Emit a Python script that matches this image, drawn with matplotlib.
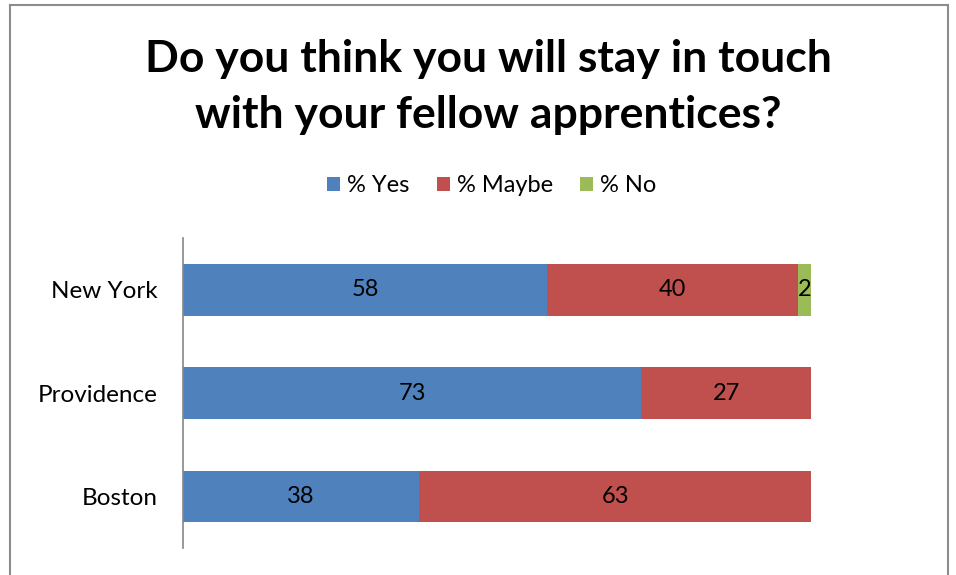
import numpy as np
import matplotlib.pyplot as plt
from matplotlib.patches import Patch
from matplotlib.lines import Line2D

plt.rcParams['font.family'] = ['Lato', 'DejaVu Sans']

cities = ["New York", "Providence", "Boston"]
series = ["% Yes", "% Maybe", "% No"]
yes = [58, 73, 38]
maybe = [40, 27, 63]
no = [2, 0, 0]
colors = ["#4F81BD", "#C0504D", "#9BBB59"]

values = np.array([yes, maybe, no], dtype=float)
shares = values / values.sum(axis=0) * 100  # 100% stacked

fig = plt.figure(figsize=(9.56, 5.75), dpi=100)
ax = fig.add_axes([183 / 956, 1 - 548 / 575, 628 / 956, 310 / 575])

y = np.arange(len(cities))
left = np.zeros(len(cities))
for i, name in enumerate(series):
    ax.barh(y, shares[i], left=left, height=0.5, color=colors[i], label=name)
    for j in range(len(cities)):
        if values[i, j] > 0:
            ax.text(left[j] + shares[i, j] / 2, y[j], f"{values[i, j]:.0f}",
                    ha="center", va="center", fontsize=17, color="black")
    left += shares[i]

ax.set_xlim(0, 100)
ax.set_ylim(len(cities) - 0.5, -0.5)
ax.set_yticks(y)
ax.set_yticklabels(cities, fontsize=17.5)
ax.tick_params(axis="y", length=0, pad=18)
ax.set_xticks([])
for s in ["top", "right", "bottom"]:
    ax.spines[s].set_visible(False)
ax.spines["left"].set_color("#868686")
ax.spines["left"].set_linewidth(1.2)

fig.text(488 / 956, 1 - 87 / 575, "Do you think you will stay in touch\nwith your fellow apprentices?",
         ha="center", va="center", fontsize=32, fontweight="bold", linespacing=1.5)

handles = [Patch(facecolor=c, edgecolor="none") for c in colors]
fig.legend(handles, series, loc="center", bbox_to_anchor=(492 / 956, 1 - 186 / 575),
           ncol=3, frameon=False, fontsize=17, handlelength=0.55, handleheight=0.55,
           handletextpad=0.3, columnspacing=1.15)

# chart border
frame = dict(color="#8c8c8c", linewidth=1.5, transform=fig.transFigure)
fig.add_artist(Line2D([10 / 956, 10 / 956], [0, 1 - 5 / 575], **frame))
fig.add_artist(Line2D([10 / 956, 948 / 956], [1 - 5 / 575, 1 - 5 / 575], **frame))
fig.add_artist(Line2D([948 / 956, 948 / 956], [0, 1 - 5 / 575], **frame))

fig.savefig("out.png", dpi=100)
